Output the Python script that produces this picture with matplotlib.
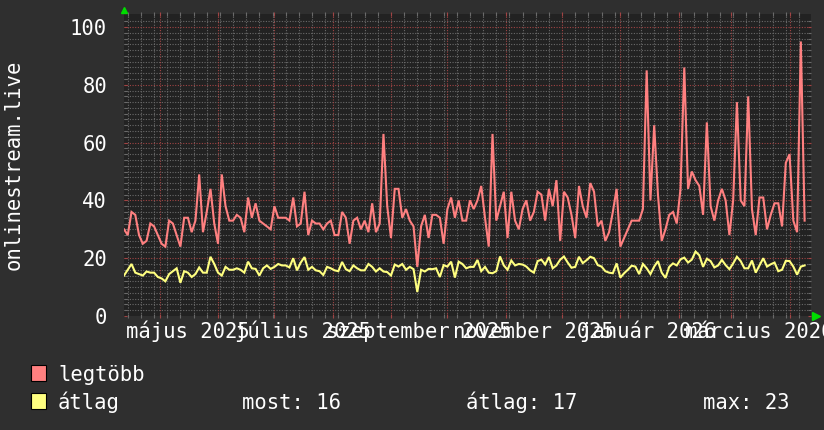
import datetime as dt
import numpy as np
import matplotlib
matplotlib.use("Agg")
import matplotlib.pyplot as plt
from matplotlib.patches import Rectangle
from matplotlib.transforms import blended_transform_factory

# ---------------- data ----------------
start_date = dt.date(2025, 4, 12)
step_days = 2

legtobb = [
    30, 28, 36, 35, 28, 25, 26, 32, 31, 28,
    25, 24, 33, 32, 28, 24, 34, 34, 29, 33,
    49, 29, 36, 44, 32, 25, 49, 38, 33, 33,
    35, 34, 29, 41, 34, 39, 33, 32, 31, 30,
    38, 34, 34, 34, 33, 41,
    31, 32, 43, 28, 33, 32, 32, 30, 32, 33,
    28, 28, 36, 34, 25, 33, 34, 30, 33, 29,
    39, 29, 32, 63, 38, 27, 44, 44, 34, 37,
    33, 31, 17, 31, 35, 27, 35, 35, 34, 25,
    37, 41, 34, 40, 33,
    33, 40, 37, 40, 45, 34, 24, 63, 33, 38,
    43, 27, 43, 33, 30, 37, 40, 33, 36, 43,
    42, 33, 44, 38, 47, 26, 43, 41, 35, 27,
    45, 38, 34, 46, 43, 31, 33, 26, 29, 36,
    44, 24, 27, 30, 33,
    33, 33, 37, 85, 40, 66, 42, 26, 30, 35,
    36, 32, 44, 86, 44, 50, 47, 45, 35, 67,
    38, 33, 40, 44, 40, 28, 40, 74, 40, 38,
    76, 37, 28, 41, 41, 30, 35, 39, 39, 31,
    53, 56, 33, 29, 95, 33,
]

atlag = [
    14, 16, 18, 15, 14.5, 14, 15.4, 15, 15, 13.5,
    13, 12, 14.5, 15.5, 16.5, 11.5, 15.5, 15, 13.5, 14.5,
    16.8, 15, 15, 20.5, 18, 15, 14, 17, 16, 16,
    16.5, 16, 15, 18.8, 16.5, 16.3, 14, 16.5, 17.5, 16.3,
    17, 18, 17.5, 17.5, 16.8, 20,
    15.8, 18.5, 20.4, 16, 17, 15.8, 15.5, 14.2, 17, 16.5,
    15.8, 15.5, 18.7, 16.2, 15.5, 17.5, 16.5, 15.8, 15.8, 18,
    17, 15.4, 16.5, 15.4, 15.2, 14, 17.8, 17.1, 18, 16,
    17, 16.2, 8.3, 16, 15.4, 16.3, 16.2, 16.5, 13.5, 17.6,
    17.1, 18.8, 13.3, 18.8, 18,
    16.5, 17, 17, 19.4, 15.5, 17, 15, 14.8, 15.5, 20.6,
    17.5, 16, 19.2, 17.5, 18, 17.8, 17.1, 15.8, 15, 19,
    19.5, 17.8, 20.4, 16.5, 17.5, 19.5, 20.6, 18.5, 16.7, 17,
    20.5, 18.3, 19.3, 20.5, 20, 17.6, 17.1, 15.5, 15, 14.8,
    18.2, 13.3, 14.8, 16, 17.4,
    17.1, 14.5, 18, 16.5, 14.5, 17.1, 19, 15, 13.2, 17,
    18.2, 17.5, 19.6, 20.2, 18.5, 19.5, 22.3, 21, 17, 19.8,
    19, 16.8, 17.5, 19.4, 17.6, 16.2, 18.2, 20.5, 19, 16.5,
    16.5, 19.2, 15, 17.5, 20, 17.1, 17.9, 18.5, 15.5, 16,
    19.1, 19, 17.1, 14.3, 17.1, 17.5,
]

y_ticks = [0, 20, 40, 60, 80, 100]
x_label_texts = ["május 2025", "július 2025", "szeptember 2025",
                 "november 2025", "január 2026", "március 2026"]
x_label_dates = [dt.date(2025, 5, 15), dt.date(2025, 7, 15), dt.date(2025, 9, 15),
                 dt.date(2025, 11, 15), dt.date(2026, 1, 15), dt.date(2026, 3, 15)]
y_title = "onlinestream.live"
legend_names = ["legtöbb", "átlag"]
stat_texts = ["most: 16", "átlag: 17", "max: 23"]

# ---------------- style ----------------
FIG_BG = "#2f2f2f"
AX_BG = "#222222"
RED = "#ff8080"
YEL = "#ffff80"
MINOR = "#6a6a6a"
MAJOR = "#a04444"
TXT = "#ffffff"
FONT = "DejaVu Sans Mono"
FS = 14.8

W, H = 824, 430
fig = plt.figure(figsize=(W / 100, H / 100), dpi=100, facecolor=FIG_BG)
L, R, T, B = 124, 811, 14, 316
ax = fig.add_axes([L / W, 1 - B / H, (R - L) / W, (B - T) / H], facecolor=AX_BG)

span_days = 365.4
ax.set_xlim(0, span_days)
ax.set_ylim(0, 104.5)

# grid
month_starts = [dt.date(2025, m, 1) for m in range(5, 13)] + [dt.date(2026, m, 1) for m in range(1, 5)]
month_pos = [(d - start_date).days for d in month_starts]
first_monday = dt.date(2025, 4, 14)
week_pos = [p for p in range((first_monday - start_date).days, 366, 7)]

dots = (0, (1, 1.4))
for v in np.arange(2, 104, 2):
    if v % 20 == 0:
        continue
    ax.axhline(v, color=MINOR, lw=0.8, ls=dots, zorder=1)
for p in week_pos:
    if p in month_pos:
        continue
    ax.axvline(p, color=MINOR, lw=0.8, ls=dots, zorder=1)
for v in y_ticks[1:]:
    ax.axhline(v, color=MAJOR, lw=0.8, ls=dots, zorder=1.5)
for p in month_pos:
    ax.axvline(p, color=MAJOR, lw=0.8, ls=dots, zorder=1.5)

# ticks
ax.set_xticks(month_pos)
ax.set_xticks(week_pos, minor=True)
ax.set_xticklabels([])
ax.set_yticks(y_ticks)
ax.set_yticklabels([str(v) for v in y_ticks], fontfamily=FONT, fontsize=FS, color=TXT)
ax.set_yticks(np.arange(0, 104, 2), minor=True)
ax.tick_params(axis="x", which="major", direction="inout", length=3, width=0.8,
               color=MAJOR, top=True, bottom=True)
ax.tick_params(axis="x", which="minor", direction="inout", length=3, width=0.8,
               color=MINOR, top=True, bottom=True)
ax.tick_params(axis="y", which="major", direction="in", length=2, width=0.8,
               color=MAJOR, pad=12.2, left=True, right=True)
ax.tick_params(axis="y", which="minor", direction="in", length=2, width=0.8,
               color=MINOR, left=True, right=True)
for s in ax.spines.values():
    s.set_visible(False)

# series
days = np.arange(len(legtobb)) * step_days
ax.plot(days, legtobb, color=RED, lw=1.5, zorder=3, solid_joinstyle="miter")
days2 = np.arange(len(atlag)) * step_days
ax.plot(days2, atlag, color=YEL, lw=1.5, zorder=4, solid_joinstyle="miter")

# x labels (centered at mid-month)
trans = blended_transform_factory(ax.transData, fig.transFigure)
for txt, d in zip(x_label_texts, x_label_dates):
    ax.text((d - start_date).days + 1, 1 - 338 / H, txt, transform=trans, ha="center",
            va="baseline", fontfamily=FONT, fontsize=FS, color=TXT, clip_on=False)

# y title
fig.text(14 / W, 1 - 165 / H, y_title, rotation=90, ha="center", va="center",
         fontfamily=FONT, fontsize=FS, color=TXT)

# arrows
ax.plot([0], [1 + 4 / (B - T)], marker="^", color="#00dd00", markersize=5,
        transform=ax.transAxes, clip_on=False, zorder=5)
ax.plot([1 + 5 / (R - L)], [0], marker=">", color="#00dd00", markersize=6,
        transform=ax.transAxes, clip_on=False, zorder=5)

# legend
for i, (name, col) in enumerate(zip(legend_names, [RED, YEL])):
    top = 365 + i * 28
    fig.add_artist(Rectangle((31 / W, 1 - (top + 16) / H), 15 / W, 16 / H,
                             transform=fig.transFigure, facecolor=col,
                             edgecolor="#000000", lw=0.8))
    fig.text(58 / W, 1 - (381 + i * 28) / H, name, ha="left", va="baseline",
             fontfamily=FONT, fontsize=FS, color=TXT)

for txt, xpx in zip(stat_texts, [242, 466, 703]):
    fig.text(xpx / W, 1 - 409 / H, txt, ha="left", va="baseline",
             fontfamily=FONT, fontsize=FS, color=TXT)

fig.savefig("out.png", dpi=100, facecolor=FIG_BG)
